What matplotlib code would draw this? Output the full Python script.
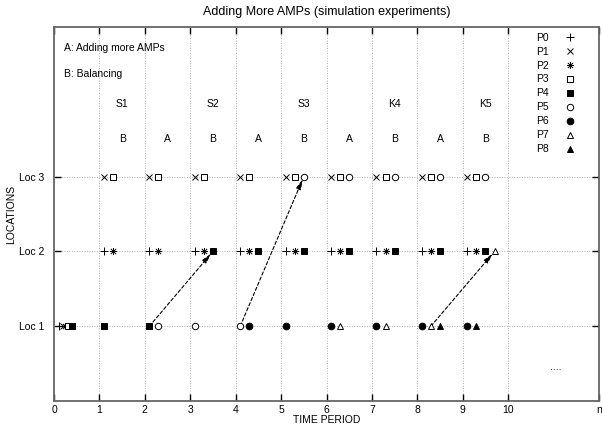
import numpy as np
import matplotlib
matplotlib.use('Agg')
import matplotlib.pyplot as plt
from matplotlib.path import Path
from matplotlib import rcParams
rcParams['font.family'] = 'sans-serif'
rcParams['font.sans-serif'] = ['Liberation Sans']
rcParams['font.size'] = 7.5

# process positions: time period and location index (1 = Loc 1 ...)
p0_t = [0.1, 1.1, 2.1, 3.1, 4.1, 5.1, 6.1, 7.1, 8.1, 9.1]
p0_loc = [1, 2, 2, 2, 2, 2, 2, 2, 2, 2]
p1_t = [0.2, 1.1, 2.1, 3.1, 4.1, 5.1, 6.1, 7.1, 8.1, 9.1]
p1_loc = [1, 3, 3, 3, 3, 3, 3, 3, 3, 3]
p2_t = [0.25, 1.3, 2.3, 3.3, 4.3, 5.3, 6.3, 7.3, 8.3, 9.3]
p2_loc = [1, 2, 2, 2, 2, 2, 2, 2, 2, 2]
p3_t = [0.3, 1.3, 2.3, 3.3, 4.3, 5.3, 6.3, 7.3, 8.3, 9.3]
p3_loc = [1, 3, 3, 3, 3, 3, 3, 3, 3, 3]
p4_t = [0.4, 1.1, 2.1, 3.5, 4.5, 5.5, 6.5, 7.5, 8.5, 9.5]
p4_loc = [1, 1, 1, 2, 2, 2, 2, 2, 2, 2]
p5_t = [2.3, 3.1, 4.1, 5.5, 6.5, 7.5, 8.5, 9.5]
p5_loc = [1, 1, 1, 3, 3, 3, 3, 3]
p6_t = [4.3, 5.1, 6.1, 7.1, 8.1, 9.1]
p6_loc = [1, 1, 1, 1, 1, 1]
p7_t = [6.3, 7.3, 8.3, 9.7]
p7_loc = [1, 1, 1, 2]
p8_t = [8.5, 9.3]
p8_loc = [1, 1]

# migrations (from time, from loc, to time, to loc)
moves = [(2.1, 1, 3.5, 2), (4.1, 1, 5.5, 3), (8.3, 1, 9.7, 2)]

phase_x = [1.5, 2.5, 3.5, 4.5, 5.5, 6.5, 7.5, 8.5, 9.5]
phase_labels = ['B', 'A', 'B', 'A', 'B', 'A', 'B', 'A', 'B']
stage_x = [1.5, 3.5, 5.5, 7.5, 9.5]
stage_labels = ['S1', 'S2', 'S3', 'K4', 'K5']

loc_ticks = [1, 2, 3]
loc_labels = ['Loc 1', 'Loc 2', 'Loc 3']
time_ticks = [0, 1, 2, 3, 4, 5, 6, 7, 8, 9, 10, 12]
time_labels = ['0', '1', '2', '3', '4', '5', '6', '7', '8', '9', '10', 'n']

# gnuplot style "plus + cross" point
star = Path([(-1, 0), (1, 0), (0, -1), (0, 1), (-0.75, -0.75), (0.75, 0.75),
             (-0.75, 0.75), (0.75, -0.75)],
            [Path.MOVETO, Path.LINETO] * 4)

series = [
    ('P0', p0_t, p0_loc, dict(marker='+', ms=5.5)),
    ('P1', p1_t, p1_loc, dict(marker='x', ms=4.5)),
    ('P2', p2_t, p2_loc, dict(marker=star, ms=5)),
    ('P3', p3_t, p3_loc, dict(marker='s', ms=4.2, mfc='white')),
    ('P4', p4_t, p4_loc, dict(marker='s', ms=4.6)),
    ('P5', p5_t, p5_loc, dict(marker='o', ms=4.6, mfc='white')),
    ('P6', p6_t, p6_loc, dict(marker='o', ms=4.8)),
    ('P7', p7_t, p7_loc, dict(marker='^', ms=4.6, mfc='white')),
    ('P8', p8_t, p8_loc, dict(marker='^', ms=4.6)),
]

fig = plt.figure(figsize=(6.02, 4.32), dpi=100)
ax = fig.add_axes([54 / 602, 31 / 432, 545 / 602, 374 / 432])

ax.set_xlim(0, 12)
ax.set_ylim(0, 5)

# dotted grid
for x in range(1, 11):
    ax.axvline(x, color='#999999', lw=0.6, ls=(0, (1, 2)), zorder=1)
for y in loc_ticks:
    ax.axhline(y, color='#999999', lw=0.6, ls=(0, (1, 2)), zorder=1)

for name, t, loc, style in series:
    ax.plot(t, loc, ls='none', color='black', mec='black', mew=0.7,
            label=name, zorder=3, **style)

for x0, y0, x1, y1 in moves:
    ax.annotate('', xy=(x1, y1), xytext=(x0, y0),
                arrowprops=dict(arrowstyle='-|>,head_length=0.8,head_width=0.2',
                                color='black', lw=0.8, ls=(0, (3, 2)),
                                shrinkA=0, shrinkB=2),
                zorder=2)

for x, s in zip(stage_x, stage_labels):
    ax.text(x, 3.97, s, ha='center', va='center')
for x, s in zip(phase_x, phase_labels):
    ax.text(x, 3.5, s, ha='center', va='center')

ax.text(0.22, 4.72, 'A: Adding more AMPs', ha='left', va='center')
ax.text(0.22, 4.37, 'B: Balancing', ha='left', va='center')
ax.text(11.05, 0.45, '....', ha='center', va='center')

ax.set_xticks(time_ticks)
ax.set_xticklabels(time_labels)
ax.set_yticks(loc_ticks)
ax.set_yticklabels(loc_labels)
ax.tick_params(direction='in', length=5, width=1, top=True, right=True,
               labelsize=7.5)
ax.tick_params(axis='x', pad=3)
ax.tick_params(axis='y', pad=7)

for sp in ax.spines.values():
    sp.set_color('#666666')
    sp.set_linewidth(1.3)

ax.set_xlabel('TIME PERIOD', labelpad=0)
ax.set_ylabel('LOCATIONS', labelpad=2)
ax.set_title('Adding More AMPs (simulation experiments)', pad=9)

ax.legend(loc='upper left', bbox_to_anchor=(0.885, 0.985), frameon=False,
          markerfirst=False, numpoints=1, handlelength=2, handletextpad=1.0,
          labelspacing=0.38, borderpad=0, borderaxespad=0)

fig.savefig('out.png', dpi=100)
